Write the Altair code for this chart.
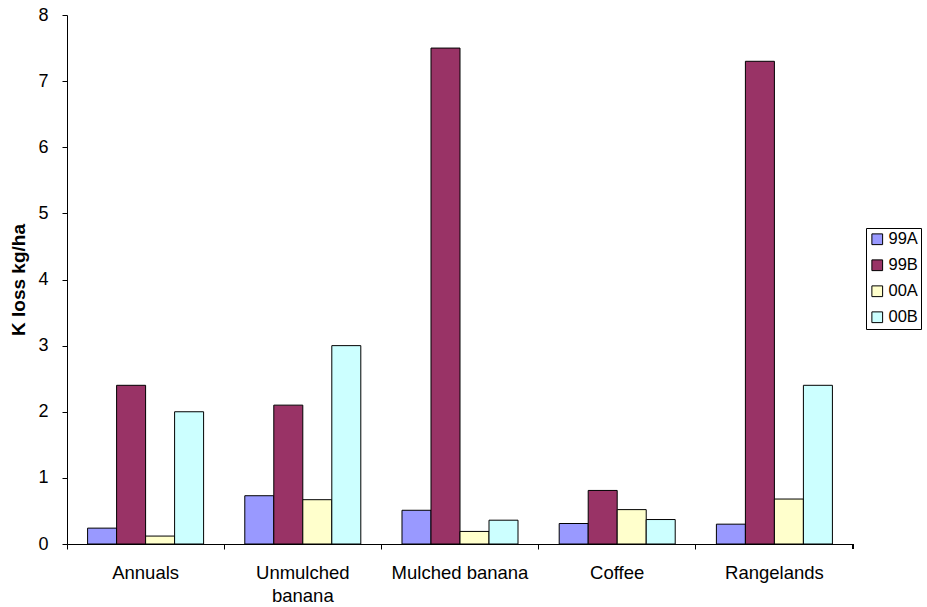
import altair as alt
import pandas as pd

categories = ["Annuals", "Unmulched banana", "Mulched banana", "Coffee", "Rangelands"]
seasons = ["99A", "99B", "00A", "00B"]
k_99a = [0.24, 0.73, 0.51, 0.31, 0.30]
k_99b = [2.4, 2.1, 7.5, 0.81, 7.3]
k_00a = [0.12, 0.67, 0.19, 0.52, 0.68]
k_00b = [2.0, 3.0, 0.36, 0.37, 2.4]
season_colors = ["#9999FF", "#993366", "#FFFFCC", "#CCFFFF"]

rows = []
for s, vals in zip(seasons, [k_99a, k_99b, k_00a, k_00b]):
    for c, v in zip(categories, vals):
        rows.append({"Land use": c, "Season": s, "K loss": v})
df = pd.DataFrame(rows)

FONT = "Liberation Sans"
W, H = 786, 529

bars = alt.Chart(df).mark_bar(stroke="black", strokeWidth=1).encode(
    x=alt.X(
        "Land use:N",
        sort=categories,
        title=None,
        scale=alt.Scale(paddingInner=0, paddingOuter=0),
        axis=alt.Axis(
            bandPosition=0,
            labelAngle=0,
            labelFontSize=18.5,
            labelColor="black",
            labelPadding=14,
            labelLineHeight=23,
            tickColor="black",
            tickSize=5,
            domainColor="black",
            labelExpr="datum.label == 'Unmulched banana' ? ['Unmulched', 'banana'] : datum.label",
        ),
    ),
    xOffset=alt.XOffset(
        "Season:N", sort=seasons, scale=alt.Scale(paddingInner=0, paddingOuter=0.71)
    ),
    y=alt.Y(
        "K loss:Q",
        title="K loss kg/ha",
        scale=alt.Scale(domain=[0, 8], nice=False),
        axis=alt.Axis(
            values=list(range(0, 9)),
            grid=False,
            labelFontSize=18,
            labelColor="black",
            labelPadding=14,
            tickColor="black",
            tickSize=5,
            domainColor="black",
            titleFontSize=19,
            titleFontWeight="bold",
            titleColor="black",
            titlePadding=9,
        ),
    ),
    color=alt.Color(
        "Season:N",
        sort=seasons,
        scale=alt.Scale(domain=seasons, range=season_colors),
        legend=alt.Legend(
            title=None,
            orient="none",
            legendX=W + 13,
            legendY=213,
            symbolType="square",
            symbolSize=115,
            symbolStrokeColor="black",
            symbolStrokeWidth=1,
            symbolOpacity=1,
            labelFontSize=16.5,
            labelColor="black",
            labelOffset=3,
            rowPadding=9,
            strokeColor="black",
            padding=3,
        ),
    ),
)

# closing tick at the right end of the category axis
end_tick = alt.Chart(df).mark_rule(color="black").encode(
    x=alt.value(W), y=alt.value(H), y2=alt.value(H + 5)
)

chart = (
    alt.layer(bars, end_tick)
    .properties(
        width=W,
        height=H,
        autosize=alt.AutoSizeParams(type="none"),
        padding={"left": 67, "top": 15, "right": 74, "bottom": 63},
    )
    .configure(font=FONT)
    .configure_view(strokeWidth=0)
)

chart.save("out.html", embed_options={"renderer": "svg", "actions": False})
